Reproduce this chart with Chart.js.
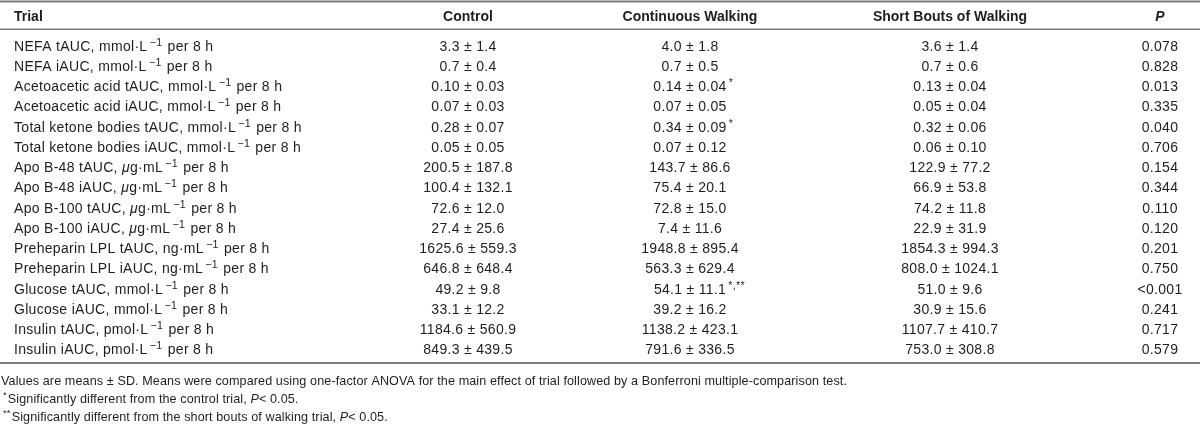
<!DOCTYPE html>
<html>
<head>
<meta charset="utf-8">
<script src="https://cdn.jsdelivr.net/npm/chart.js@4.4.1/dist/chart.umd.min.js"></script>
<style>
  html, body { margin: 0; padding: 0; background: #fff; }
  #wrap { width: 1200px; height: 431px; position: relative; }
</style>
</head>
<body>
<div id="wrap"><canvas id="chart"></canvas></div>
<script>
// ---- table data ----
const columns = ['Trial', 'Control', 'Continuous Walking', 'Short Bouts of Walking', 'P'];

const rowLabels = [
  'NEFA tAUC, mmol·L^{−1} per 8 h',
  'NEFA iAUC, mmol·L^{−1} per 8 h',
  'Acetoacetic acid tAUC, mmol·L^{−1} per 8 h',
  'Acetoacetic acid iAUC, mmol·L^{−1} per 8 h',
  'Total ketone bodies tAUC, mmol·L^{−1} per 8 h',
  'Total ketone bodies iAUC, mmol·L^{−1} per 8 h',
  'Apo B-48 tAUC, ~{μ}g·mL^{−1} per 8 h',
  'Apo B-48 iAUC, ~{μ}g·mL^{−1} per 8 h',
  'Apo B-100 tAUC, ~{μ}g·mL^{−1} per 8 h',
  'Apo B-100 iAUC, ~{μ}g·mL^{−1} per 8 h',
  'Preheparin LPL tAUC, ng·mL^{−1} per 8 h',
  'Preheparin LPL iAUC, ng·mL^{−1} per 8 h',
  'Glucose tAUC, mmol·L^{−1} per 8 h',
  'Glucose iAUC, mmol·L^{−1} per 8 h',
  'Insulin tAUC, pmol·L^{−1} per 8 h',
  'Insulin iAUC, pmol·L^{−1} per 8 h'
];

const decimals = [1, 1, 2, 2, 2, 2, 1, 1, 1, 1, 1, 1, 1, 1, 1, 1];

const controlMean = [3.3, 0.7, 0.10, 0.07, 0.28, 0.05, 200.5, 100.4, 72.6, 27.4, 1625.6, 646.8, 49.2, 33.1, 1184.6, 849.3];
const controlSD   = [1.4, 0.4, 0.03, 0.03, 0.07, 0.05, 187.8, 132.1, 12.0, 25.6, 559.3, 648.4, 9.8, 12.2, 560.9, 439.5];

const continuousMean = [4.0, 0.7, 0.14, 0.07, 0.34, 0.07, 143.7, 75.4, 72.8, 7.4, 1948.8, 563.3, 54.1, 39.2, 1138.2, 791.6];
const continuousSD   = [1.8, 0.5, 0.04, 0.05, 0.09, 0.12, 86.6, 20.1, 15.0, 11.6, 895.4, 629.4, 11.1, 16.2, 423.1, 336.5];
const continuousMark = ['', '', '*', '', '*', '', '', '', '', '', '', '', '*,**', '', '', ''];

const shortBoutsMean = [3.6, 0.7, 0.13, 0.05, 0.32, 0.06, 122.9, 66.9, 74.2, 22.9, 1854.3, 808.0, 51.0, 30.9, 1107.7, 753.0];
const shortBoutsSD   = [1.4, 0.6, 0.04, 0.04, 0.06, 0.10, 77.2, 53.8, 11.8, 31.9, 994.3, 1024.1, 9.6, 15.6, 410.7, 308.8];

const pValues = ['0.078', '0.828', '0.013', '0.335', '0.040', '0.706', '0.154', '0.344', '0.110', '0.120', '0.201', '0.750', '<0.001', '0.241', '0.717', '0.579'];

const footnotes = [
  'Values are means ± SD. Means were compared using one-factor ANOVA for the main effect of trial followed by a Bonferroni multiple-comparison test.',
  '^{*}Significantly different from the control trial, ~{P}< 0.05.',
  '^{**}Significantly different from the short bouts of walking trial, ~{P}< 0.05.'
];

// ---- layout (row units on y, pixels on x) ----
const colX = [14, 468, 690, 950, 1160];
const rowTop = 45.5, rowPitch = 20.25, H = 431;
const headerRow = -1.48;
const rules = [{ y: -2.17, w: 2 }, { y: -0.8, w: 1.5 }, { y: 15.68, w: 2 }];
const footRows = [16.55, 17.43, 18.3];
const FONT = '"Liberation Sans", Arial, sans-serif';
const TEXT = '#1e1e1e';

function cellText(mean, sd, i, mark) {
  let s = mean.toFixed(decimals[i]) + ' ± ' + sd.toFixed(decimals[i]);
  if (mark) s += '^{' + mark + '}';
  return s;
}

const cellStrings = [
  rowLabels,
  controlMean.map((m, i) => cellText(m, controlSD[i], i, '')),
  continuousMean.map((m, i) => cellText(m, continuousSD[i], i, continuousMark[i])),
  shortBoutsMean.map((m, i) => cellText(m, shortBoutsSD[i], i, '')),
  pValues
];

function parse(s) {
  return s.split(/(\^\{[^}]*\}|~\{[^}]*\})/).filter(Boolean).map(p => {
    if (p.startsWith('^{')) return { t: p.slice(2, -1), sup: true };
    if (p.startsWith('~{')) return { t: p.slice(2, -1), ital: true };
    return { t: p };
  });
}

function segFont(seg, size, bold) {
  if (seg.sup) return (size * 0.76).toFixed(1) + 'px ' + FONT;
  return (seg.ital ? 'italic ' : '') + (bold ? 'bold ' : '') + size + 'px ' + FONT;
}

function drawRich(ctx, str, x, yMid, size, align, bold, spacing) {
  const segs = parse(str);
  ctx.letterSpacing = spacing + 'px';
  const gap = size * 0.16;
  const widths = segs.map(sg => { ctx.font = segFont(sg, size, bold); return ctx.measureText(sg.t).width + (sg.sup ? gap + 1 : 0); });
  // centre on the main text, ignoring trailing superscript marks
  let core = 0, lastCore = segs.length;
  while (lastCore > 0 && segs[lastCore - 1].sup) lastCore--;
  for (let k = 0; k < lastCore; k++) core += widths[k];
  let cx = align === 'center' ? x - core / 2 : x;
  const base = yMid + size * 0.36;
  segs.forEach((sg, k) => {
    ctx.font = segFont(sg, size, bold);
    ctx.fillText(sg.t, cx + (sg.sup ? gap : 0), sg.sup ? base - size * 0.36 : base);
    cx += widths[k];
  });
}

const tablePlugin = {
  id: 'tableText',
  afterDraw(chart) {
    const ctx = chart.ctx, xs = chart.scales.x, ys = chart.scales.y;
    ctx.save();
    ctx.textBaseline = 'alphabetic';
    ctx.textAlign = 'left';
    ctx.fillStyle = TEXT;

    // rules
    ctx.strokeStyle = '#7d7d7d';
    rules.forEach(r => {
      const py = ys.getPixelForValue(r.y);
      ctx.lineWidth = r.w;
      ctx.beginPath(); ctx.moveTo(0, py); ctx.lineTo(chart.width, py); ctx.stroke();
    });

    // header
    const hy = ys.getPixelForValue(headerRow);
    columns.forEach((c, j) => {
      const label = j === 4 ? '~{P}' : c;
      drawRich(ctx, label, xs.getPixelForValue(colX[j]), hy, 14, j === 0 ? 'left' : 'center', true, 0);
    });

    // body cells, placed at the dataset points
    chart.data.datasets.forEach((ds, j) => {
      const meta = chart.getDatasetMeta(j);
      meta.data.forEach((pt, i) => {
        drawRich(ctx, cellStrings[j][i], pt.x, pt.y, 14, j === 0 ? 'left' : 'center', false, 0.3);
      });
    });

    // footnotes
    footnotes.forEach((f, k) => {
      drawRich(ctx, f, xs.getPixelForValue(1), ys.getPixelForValue(footRows[k]), 12.6, 'left', false, 0.1);
    });
    ctx.restore();
  }
};

const datasets = columns.map((c, j) => ({
  label: c,
  data: rowLabels.map((_, i) => ({ x: colX[j], y: i })),
  pointRadius: 0,
  showLine: false
}));

new Chart(document.getElementById('chart').getContext('2d'), {
  type: 'scatter',
  data: { datasets: datasets },
  options: {
    responsive: true,
    maintainAspectRatio: false,
    animation: false,
    layout: { padding: 0 },
    plugins: { legend: { display: false }, tooltip: { enabled: false } },
    scales: {
      x: { type: 'linear', display: false, min: 0, max: 1200 },
      y: { type: 'linear', display: false, reverse: true,
           min: -rowTop / rowPitch, max: (H - rowTop) / rowPitch }
    }
  },
  plugins: [tablePlugin]
});
</script>
</body>
</html>
